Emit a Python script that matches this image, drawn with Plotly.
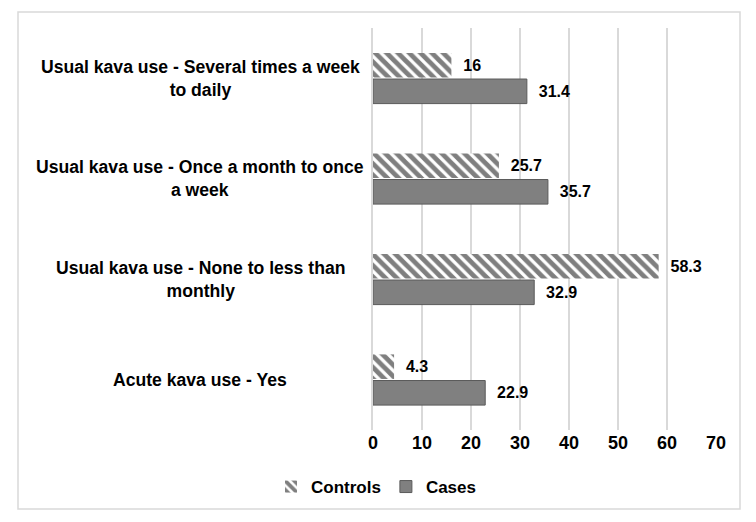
import plotly.graph_objects as go

categories = [
    "Usual kava use - Several times a week<br>to daily",
    "Usual kava use - Once a month to once<br>a week",
    "Usual kava use - None to less than<br>monthly",
    "Acute kava use - Yes",
]
controls = [16, 25.7, 58.3, 4.3]
cases = [31.4, 35.7, 32.9, 22.9]
x_ticks = [0, 10, 20, 30, 40, 50, 60, 70]

FONT = "Liberation Sans, Arial, sans-serif"

# page body has an 8px default margin; figure origin sits at page (8, 8)
OFF = 8
W, H = 756 - OFF, 522 - OFF
L, R, T, B = 373 - OFF, 40, 28 - OFF, 92
PW, PH = W - L - R, H - T - B


def px_x(p):
    return (p - OFF - L) / PW


def px_y(p):
    return (H - B - (p - OFF)) / PH


fig = go.Figure()
fig.add_trace(go.Bar(
    name="Controls", y=categories, x=controls, orientation="h",
    marker=dict(color="white", line=dict(width=0),
                pattern=dict(shape="\\", fgcolor="black", bgcolor="white",
                             size=8, solidity=0.6)),
    text=[f"  {v:g}" for v in controls], textposition="outside",
    textfont=dict(family=FONT, size=16, color="black", weight="bold"),
    cliponaxis=False,
))
fig.add_trace(go.Bar(
    name="Cases", y=categories, x=cases, orientation="h",
    marker=dict(color="#808080", line=dict(color="#5a5a5a", width=1)),
    text=[f"  {v:g}" for v in cases], textposition="outside",
    textfont=dict(family=FONT, size=16, color="black", weight="bold"),
    cliponaxis=False,
))

for c in categories:
    fig.add_annotation(
        x=px_x(200), xref="paper", y=c, yref="y", text=c, showarrow=False,
        xanchor="center", yanchor="middle", align="center",
        font=dict(family=FONT, size=17.6, color="black", weight="bold"),
    )

fig.add_shape(type="rect", xref="paper", yref="paper",
              x0=px_x(18), x1=px_x(740), y0=px_y(509), y1=px_y(12),
              line=dict(color="#d9d9d9", width=1.5), fillcolor="rgba(0,0,0,0)",
              layer="below")

fig.update_layout(
    width=W, height=H,
    margin=dict(l=L, r=R, t=T, b=B),
    paper_bgcolor="white", plot_bgcolor="white",
    barmode="group", bargap=0.48, bargroupgap=0.06,
    showlegend=True,
    legend=dict(orientation="h", x=px_x(376), xanchor="center",
                y=px_y(487), yanchor="middle",
                font=dict(family=FONT, size=17, color="black", weight="bold"),
                itemwidth=30, tracegroupgap=0),
    xaxis=dict(range=[0, 70], tickvals=x_ticks, showgrid=True,
               gridcolor="#d9d9d9", gridwidth=1.5, zeroline=False,
               showline=False, ticks="",
               tickfont=dict(family=FONT, size=18, color="black", weight="bold")),
    yaxis=dict(autorange="reversed", showticklabels=False, showgrid=False,
               showline=True, linecolor="#d9d9d9", linewidth=1.5, ticks=""),
    font=dict(family=FONT),
)

fig.write_html("out.html")
